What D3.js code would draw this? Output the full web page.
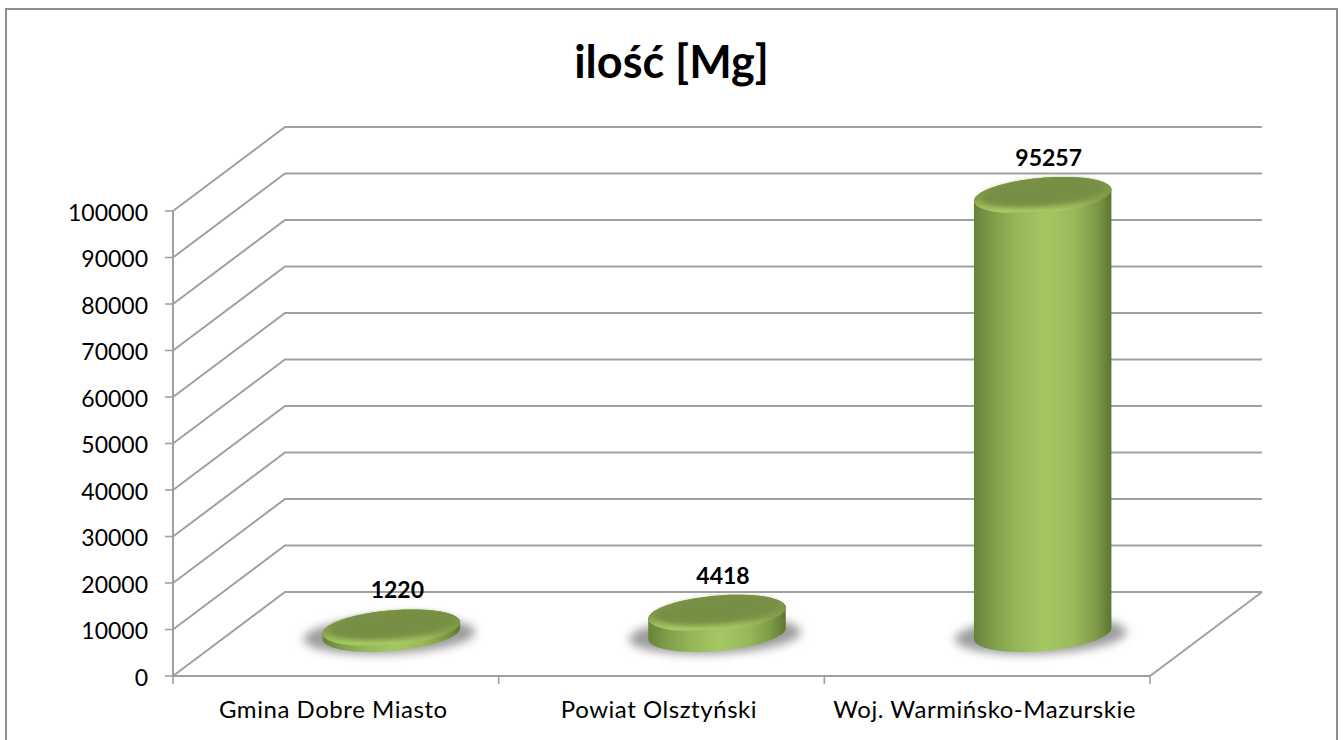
<!DOCTYPE html>
<html><head><meta charset="utf-8">
<script src="https://cdn.jsdelivr.net/npm/d3@7"></script>
<style>html,body{margin:0;padding:0;background:#fff}svg{display:block}text{font-family:Lato,"Open Sans",sans-serif;fill:#000}</style>
</head><body><svg id="c" width="1343" height="740"></svg>
<script>
const categories = ["Gmina Dobre Miasto","Powiat Olsztyński","Woj. Warmińsko-Mazurskie"];
const values = [1220,4418,95257];
const yTicks = [0,10000,20000,30000,40000,50000,60000,70000,80000,90000,100000];
const title = "ilość [Mg]";

const W=1343,H=740;
const left=173,right=1150,y0=676,y1=211,depthX=112,depthY=84;
const grid="#a0a0a0";
const svg=d3.select("#c");
const defs=svg.append("defs");

const x=d3.scaleBand().domain(categories).range([left,right]);
const y=d3.scaleLinear().domain([0,100000]).range([y0,y1]);
const midX=depthX/2, midY=depthY/2;
// the cylinders stand mid-depth, so their vertical scale is slightly foreshortened
const yBar=d3.scaleLinear().domain([0,100000]).range([y0-midY,y0-midY-460]);

svg.append("path").attr("d",`M6,${H}V9H1337V${H}`).attr("fill","none").attr("stroke","#8e8e8e").attr("stroke-width",2);

svg.append("text").attr("x",671.5).attr("y",78).attr("text-anchor","middle")
  .style("font-size","45px").style("font-weight",700).text(title);

const wall=svg.append("g").attr("fill","none").attr("stroke",grid).attr("stroke-width",2);
yTicks.forEach(t=>{
  wall.append("path").attr("d",`M${left},${y(t)}L${left+depthX},${y(t)-depthY}H${right+depthX}`);
});
wall.append("path").attr("d",`M${left},${y0}H${right}L${right+depthX},${y0-depthY}`);
wall.append("path").attr("d",`M${left},${y1}V${y0}`);

const ticks=svg.append("g").attr("stroke",grid).attr("stroke-width",1.6);
yTicks.forEach(t=>{
  ticks.append("line").attr("x1",left-8).attr("x2",left).attr("y1",y(t)).attr("y2",y(t));
  svg.append("text").attr("x",left-25).attr("y",y(t)+9.5).attr("text-anchor","end").style("font-size","23px").text(t);
});
[...categories.map(c=>x(c)),right].forEach(v=>{
  ticks.append("line").attr("x1",v).attr("x2",v).attr("y1",y0).attr("y2",y0+8);
});
categories.forEach(c=>{
  svg.append("text").attr("x",x(c)+x.bandwidth()/2-2.5).attr("y",718).attr("text-anchor","middle")
    .style("font-size","24px").style("letter-spacing","0.55px").text(c);
});

const side=defs.append("linearGradient").attr("id","side").attr("x1",0).attr("x2",1).attr("y1",0).attr("y2",0);
[[0,"#67823a"],[.14,"#7f9e4a"],[.32,"#97b758"],[.52,"#a5c763"],[.72,"#9aba5a"],[.9,"#7b9845"],[1,"#5c7531"]]
  .forEach(s=>side.append("stop").attr("offset",s[0]).attr("stop-color",s[1]));
const rim=defs.append("linearGradient").attr("id","rim").attr("x1",0).attr("x2",0).attr("y1",0).attr("y2",1);
[[0,"#778e44"],[.6,"#83a04b"],[.93,"#a8cb64"],[1,"#98b958"]]
  .forEach(s=>rim.append("stop").attr("offset",s[0]).attr("stop-color",s[1]));
defs.append("filter").attr("id","sb").attr("x","-30%").attr("y","-60%").attr("width","160%").attr("height","220%")
  .append("feGaussianBlur").attr("stdDeviation",5);
defs.append("filter").attr("id","tb").attr("x","-20%").attr("y","-30%").attr("width","140%").attr("height","160%")
  .append("feGaussianBlur").attr("stdDeviation",2.5);

const rx=69, ry=17.5, tilt=-5;
const rad=tilt*Math.PI/180;
const ell=(cx,cy,a,b)=>d3.range(0,360,3).map(d=>{
  const t=d*Math.PI/180,px=a*Math.cos(t),py=b*Math.sin(t);
  return [cx+px*Math.cos(rad)-py*Math.sin(rad),cy+px*Math.sin(rad)+py*Math.cos(rad)];
});
const line=d3.line().curve(d3.curveLinearClosed);

categories.forEach((c,i)=>{
  const cx=x(c)+x.bandwidth()/2+midX-0.5;
  const yb=yBar(0)-0.5;
  const yt=yBar(values[i])-0.5;
  const g=svg.append("g");
  g.append("ellipse").attr("cx",cx-2).attr("cy",yb+2).attr("rx",rx+17).attr("ry",ry+1)
    .attr("transform",`rotate(${tilt/2} ${cx-2} ${yb+2})`)
    .attr("fill","#9c9c9c").attr("filter","url(#sb)");
  g.append("path").attr("d",line(d3.polygonHull([...ell(cx,yb,rx,ry),...ell(cx,yt,rx,ry)]))).attr("fill","url(#side)");
  g.append("path").attr("d",line(ell(cx,yt,rx,ry))).attr("fill","url(#rim)");
  g.append("path").attr("d",line(ell(cx,yt-2.5,rx-7,ry-4.5))).attr("fill","#778e44").attr("filter","url(#tb)");
  svg.append("text").attr("x",cx+6).attr("y",yt-29.5).attr("text-anchor","middle")
    .style("font-size","23px").style("font-weight",700).text(values[i]);
});
</script></body></html>
